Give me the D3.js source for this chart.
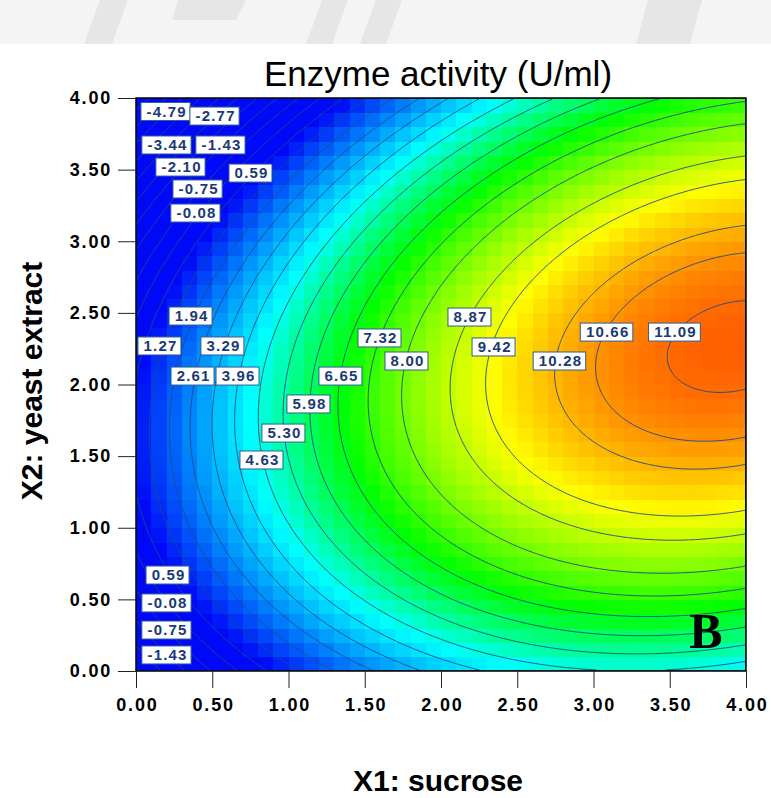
<!DOCTYPE html>
<html>
<head>
<meta charset="utf-8">
<script src="https://cdn.jsdelivr.net/npm/d3@7"></script>
<style>
  body { margin: 0; background: #ffffff; }
  svg { display: block; }
</style>
</head>
<body>
<svg id="chart" width="771" height="798"></svg>
<script>
// Second-order response surface for enzyme activity (U/ml)
const termNames = ["Intercept", "X1", "X2", "X1^2", "X2^2", "X1*X2"];
const termCoefs = [-2.845, 4.602, 4.444, -0.709, -1.35, 0.426];

// Contour levels drawn on the surface
const contourLevels = [-6.13, -5.46, -4.79, -4.12, -3.44, -2.77, -2.10, -1.43, -0.75, -0.08,
  0.59, 1.27, 1.94, 2.61, 3.29, 3.96, 4.63, 5.30, 5.98, 6.65, 7.32, 8.00, 8.87, 9.42,
  10.28, 10.66, 11.09];

// Contour labels: level and anchor (X1, X2)
const labelLevels = [-4.79, -2.77, -3.44, -1.43, -2.10, 0.59, -0.75, -0.08,
  1.94, 1.27, 3.29, 2.61, 3.96, 6.65, 7.32, 8.00, 8.87, 9.42, 10.28, 10.66, 11.09,
  5.98, 5.30, 4.63, 0.59, -0.08, -0.75, -1.43];
const labelX1 = [0.197, 0.518, 0.203, 0.557, 0.295, 0.754, 0.407, 0.393,
  0.361, 0.157, 0.570, 0.374, 0.669, 1.344, 1.600, 1.777, 2.190, 2.348, 2.780, 3.089, 3.534,
  1.134, 0.970, 0.826, 0.210, 0.203, 0.203, 0.203];
const labelX2 = [3.906, 3.874, 3.672, 3.672, 3.518, 3.476, 3.365, 3.197,
  2.478, 2.269, 2.269, 2.059, 2.059, 2.059, 2.325, 2.164, 2.471, 2.262, 2.164, 2.366, 2.366,
  1.864, 1.661, 1.473, 0.670, 0.475, 0.286, 0.112];

// Axis ticks
const x1Ticks = [0, 0.5, 1, 1.5, 2, 2.5, 3, 3.5, 4];
const x2Ticks = [0, 0.5, 1, 1.5, 2, 2.5, 3, 3.5, 4];

// Colour ramp stops (response value -> colour)
const rampValues = [0.7, 4.4, 6.8, 9.5, 12.25];
const rampColours = ["#0008f8", "#00ffff", "#00ff00", "#ffff00", "#ff0000"];

function response(x1, x2) {
  const t = [1, x1, x2, x1 * x1, x2 * x2, x1 * x2];
  return d3.sum(t, (v, i) => v * termCoefs[i]);
}

const svg = d3.select("#chart");
const plot = { left: 136, right: 746, top: 98, bottom: 671 };

// Faint page band behind the figure heading
const band = svg.append("g");
band.append("rect").attr("x", 0).attr("y", 0).attr("width", 771).attr("height", 44)
  .attr("fill", "#f4f4f4");
const bandShapes = [
  "M100,0 L128,0 L112,44 L84,44 Z",
  "M178,0 L246,0 L236,20 L172,20 Z",
  "M322,0 L348,0 L332,44 L306,44 Z",
  "M376,0 L402,0 L386,44 L360,44 Z",
  "M648,0 L702,0 L690,44 L636,44 Z"
];
band.selectAll("path").data(bandShapes).join("path")
  .attr("d", d => d).attr("fill", "#e6e6e6");

const x = d3.scaleLinear().domain([0, 4]).range([plot.left, plot.right]);
const y = d3.scaleLinear().domain([0, 4]).range([plot.bottom, plot.top]);
const colour = d3.scaleLinear().domain(rampValues).range(rampColours).clamp(true);

svg.append("defs").append("clipPath").attr("id", "plotClip")
  .append("rect")
  .attr("x", plot.left).attr("y", plot.top)
  .attr("width", plot.right - plot.left).attr("height", plot.bottom - plot.top);

const area = svg.append("g").attr("clip-path", "url(#plotClip)");

// Shaded cells
const cells = 40;
const step = 4 / cells;
const cellData = [];
for (let j = 0; j < cells; j++) {
  for (let i = 0; i < cells; i++) {
    const cx = (i + 0.5) * step, cy = (j + 0.5) * step;
    cellData.push({ x0: i * step, y0: j * step, v: response(cx, cy) });
  }
}
area.append("g").selectAll("rect").data(cellData).join("rect")
  .attr("x", d => x(d.x0))
  .attr("y", d => y(d.y0 + step))
  .attr("width", d => x(d.x0 + step) - x(d.x0) + 0.6)
  .attr("height", d => y(d.y0) - y(d.y0 + step) + 0.6)
  .attr("fill", d => colour(d.v))
  .attr("shape-rendering", "crispEdges");

// Contour lines on a fine grid
const n = 260;
const grid = new Array(n * n);
for (let j = 0; j < n; j++) {
  for (let i = 0; i < n; i++) {
    // row j = 0 at top of the plot (X2 = 4)
    grid[j * n + i] = response((i + 0.5) / n * 4, 4 - (j + 0.5) / n * 4);
  }
}
const contours = d3.contours().size([n, n]).thresholds(contourLevels)(grid);
const toPixel = d3.geoTransform({
  point: function (gx, gy) {
    this.stream.point(x(gx / n * 4), y(4 - gy / n * 4));
  }
});
area.append("g").selectAll("path").data(contours).join("path")
  .attr("d", d3.geoPath(toPixel))
  .attr("fill", "none")
  .attr("stroke", "#1e4a86")
  .attr("stroke-width", 1)
  .attr("stroke-opacity", 0.9);

// Frame
svg.append("rect")
  .attr("x", plot.left).attr("y", plot.top)
  .attr("width", plot.right - plot.left).attr("height", plot.bottom - plot.top)
  .attr("fill", "none").attr("stroke", "#000").attr("stroke-width", 1.5);

// Contour labels
const labels = svg.append("g").selectAll("g")
  .data(labelLevels.map((v, i) => ({ v, x1: labelX1[i], x2: labelX2[i] })))
  .join("g")
  .attr("transform", d => `translate(${x(d.x1)},${y(d.x2)})`);
const labelText = labels.append("text")
  .attr("text-anchor", "middle")
  .attr("dy", "0.36em")
  .attr("font-family", "'Liberation Sans', Arial, sans-serif")
  .attr("font-weight", "bold")
  .attr("font-size", 15)
  .attr("letter-spacing", 1.2)
  .attr("fill", "#1a3a76")
  .text(d => d.v.toFixed(2));
labelText.each(function () {
  const w = this.getComputedTextLength();
  const g = d3.select(this.parentNode);
  g.insert("rect", "text")
    .attr("x", -w / 2 - 5).attr("y", -9)
    .attr("width", w + 9).attr("height", 18)
    .attr("fill", "#fff")
    .attr("stroke", "#2f5c93").attr("stroke-width", 1);
  d3.select(this).attr("dx", 0.6);
});

// Axes
const tickFont = "'Liberation Sans', Arial, sans-serif";
const xAxis = d3.axisBottom(x).tickValues(x1Ticks).tickFormat(d3.format(".2f"))
  .tickSize(17).tickPadding(10);
const yAxis = d3.axisLeft(y).tickValues(x2Ticks).tickFormat(d3.format(".2f"))
  .tickSize(18).tickPadding(6);

const gx = svg.append("g").attr("transform", `translate(0,${plot.bottom})`).call(xAxis);
const gy = svg.append("g").attr("transform", `translate(${plot.left},0)`).call(yAxis);
[gx, gy].forEach(g => {
  g.select(".domain").remove();
  g.selectAll(".tick line").attr("stroke", "#222").attr("stroke-width", 1);
  g.selectAll(".tick text")
    .attr("font-family", tickFont).attr("font-weight", "bold")
    .attr("font-size", 18).attr("letter-spacing", 1.8).attr("fill", "#000");
});
gx.selectAll(".tick text").attr("dx", 0.9);

// Titles
svg.append("text")
  .attr("x", 438).attr("y", 86)
  .attr("text-anchor", "middle")
  .attr("font-family", "'Liberation Sans', Arial, sans-serif")
  .attr("font-size", 35)
  .attr("fill", "#000")
  .text("Enzyme activity (U/ml)");

svg.append("text")
  .attr("x", 438).attr("y", 791)
  .attr("text-anchor", "middle")
  .attr("font-family", "'Liberation Sans', Arial, sans-serif")
  .attr("font-weight", "bold")
  .attr("font-size", 30)
  .attr("fill", "#000")
  .text("X1: sucrose");

svg.append("text")
  .attr("transform", "translate(42,381) rotate(-90)")
  .attr("text-anchor", "middle")
  .attr("font-family", "'Liberation Sans', Arial, sans-serif")
  .attr("font-weight", "bold")
  .attr("font-size", 30)
  .attr("fill", "#000")
  .text("X2: yeast extract");

// Panel letter
svg.append("text")
  .attr("x", 706).attr("y", 648)
  .attr("text-anchor", "middle")
  .attr("font-family", "'Liberation Serif', 'Times New Roman', serif")
  .attr("font-weight", "bold")
  .attr("font-size", 50)
  .attr("fill", "#000")
  .text("B");
</script>
</body>
</html>
